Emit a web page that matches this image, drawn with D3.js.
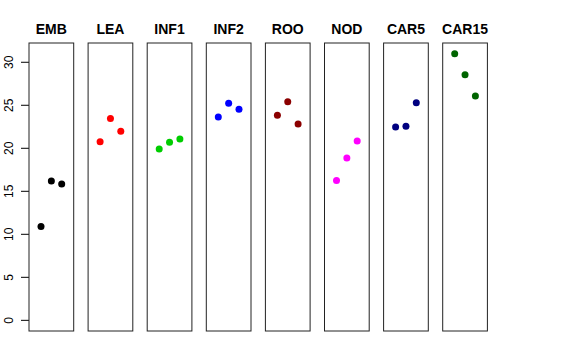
<!DOCTYPE html>
<html>
<head>
<meta charset="utf-8">
<script src="https://cdn.jsdelivr.net/npm/d3@7"></script>
<style>
  body { margin: 0; background: #fff; }
  text { font-family: "Liberation Sans", Arial, sans-serif; }
</style>
</head>
<body>
<svg id="mysvg" width="576" height="360"></svg>
<script>
// one panel per group, three points each
var groups = ["EMB", "LEA", "INF1", "INF2", "ROO", "NOD", "CAR5", "CAR15"];
var colors = ["#000000", "#FF0000", "#00CD00", "#0000FF", "#8B0000", "#FF00FF", "#000080", "#006400"];
var vals = [
  [10.9, 16.2, 15.85],
  [20.75, 23.45, 21.98],
  [19.92, 20.7, 21.08],
  [23.64, 25.23, 24.53],
  [23.84, 25.42, 22.83],
  [16.25, 18.87, 20.85],
  [22.48, 22.56, 25.3],
  [31.0, 28.56, 26.08]
];
var yTicks = [0, 5, 10, 15, 20, 25, 30];

var svg = d3.select("#mysvg");
var plotTop = 43, plotBottom = 331;
var panelW = 44.7, step = 59.1, left0 = 29;

// ylim 0..31 with 4% padding like R
var yScale = d3.scaleLinear().domain([-1.24, 32.24]).range([plotBottom, plotTop]);
var xScale = d3.scaleLinear().domain([-0.16, 4.16]).range([0, panelW]);

// y axis on the left of the first panel
var yAxis = svg.append("g")
  .attr("transform", "translate(" + left0 + ",0)")
  .call(d3.axisLeft(yScale).tickValues(yTicks).tickSize(8).tickPadding(3));
yAxis.select(".domain").remove();
yAxis.selectAll("line").attr("stroke", "#000");
yAxis.selectAll(".tick").attr("transform", null);
yAxis.selectAll(".tick line")
  .attr("y1", function (d) { return yScale(d); })
  .attr("y2", function (d) { return yScale(d); });
yAxis.selectAll(".tick text")
  .attr("transform", function (d) { return "translate(-16," + yScale(d) + ") rotate(-90)"; })
  .attr("x", 0).attr("y", 0).attr("dy", 0)
  .attr("text-anchor", "middle")
  .attr("font-size", 12)
  .attr("fill", "#000");

groups.forEach(function (name, i) {
  var gx = left0 + i * step;
  var g = svg.append("g").attr("transform", "translate(" + gx + ",0)");
  g.append("rect")
    .attr("x", 0).attr("y", plotTop)
    .attr("width", panelW).attr("height", plotBottom - plotTop)
    .attr("fill", "none").attr("stroke", "#222").attr("stroke-width", 1);
  g.append("text")
    .attr("x", panelW / 2).attr("y", 34)
    .attr("text-anchor", "middle")
    .attr("font-size", 14).attr("font-weight", "bold")
    .text(name);
  g.selectAll("circle").data(vals[i]).enter().append("circle")
    .attr("cx", function (d, j) { return xScale(j + 1); })
    .attr("cy", function (d) { return yScale(d); })
    .attr("r", 3.5)
    .attr("fill", colors[i]);
});
</script>
</body>
</html>
